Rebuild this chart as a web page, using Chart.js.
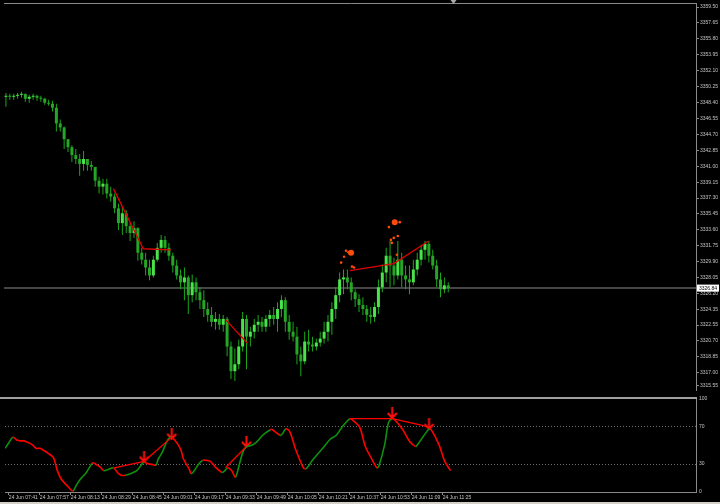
<!DOCTYPE html>
<html>
<head>
<meta charset="utf-8">
<title>24 Jun M1</title>
<script src="https://cdn.jsdelivr.net/npm/chart.js@4.4.1/dist/chart.umd.min.js"></script>
<style>
html, body { margin: 0; padding: 0; background: #000; }
#wrap { position: relative; width: 720px; height: 504px; overflow: hidden; background: #000; }
#price-chart { position: absolute; left: 0; top: 0; }
#osc-chart { position: absolute; left: 0; top: 394px; }
#foot { position: absolute; left: 0; top: 502px; width: 720px; height: 2px; background: #d4d0c8; }
</style>
</head>
<body>
<div id="wrap">
  <canvas id="price-chart" width="720" height="394"></canvas>
  <canvas id="osc-chart" width="720" height="108"></canvas>
  <div id="foot"></div>
</div>
<script>
// ---- price bars (2 minute bars, first one opens 07:39) ----
const opens = [3349.07,3349.18,3349.07,3349.18,3349.30,3349.41,3348.84,3349.07,3349.18,3348.95,
  3348.84,3348.38,3348.26,3347.80,3345.97,3345.51,3344.14,3343.22,3342.30,3341.84,
  3341.27,3341.84,3341.15,3340.92,3339.32,3338.63,3338.97,3337.83,3337.48,3336.11,
  3334.39,3335.53,3334.04,3333.24,3333.81,3330.95,3330.14,3329.23,3328.31,3330.14,
  3331.52,3332.44,3331.52,3330.60,3329.46,3328.31,3327.51,3328.08,3326.02,3327.51,
  3326.36,3325.44,3324.41,3323.72,3322.92,3323.26,3322.58,3323.26,3320.05,3317.19,
  3317.99,3320.05,3323.26,3321.20,3321.77,3322.58,3322.92,3322.35,3323.26,3323.72,
  3323.26,3324.41,3325.44,3322.92,3321.77,3321.20,3319.13,3318.33,3320.63,3320.28,
  3320.05,3320.51,3320.97,3321.77,3322.92,3324.41,3326.02,3327.85,3328.08,3327.51,
  3326.36,3325.56,3324.87,3324.41,3323.72,3323.49,3324.64,3326.93,3328.65,3330.60,
  3329.46,3328.31,3330.14,3328.31,3327.85,3327.51,3329.00,3330.14,3331.29,3331.98,
  3330.60,3329.46,3327.85,3326.70,3327.16];
const highs = [3349.52,3349.41,3349.41,3349.52,3349.64,3349.41,3349.30,3349.41,3349.30,3349.18,
  3348.95,3348.72,3348.61,3348.26,3346.43,3345.63,3344.14,3343.45,3342.99,3342.41,
  3342.76,3341.84,3341.61,3340.92,3339.78,3339.55,3339.55,3338.63,3337.83,3336.68,
  3336.34,3335.88,3334.39,3334.62,3333.90,3331.52,3330.95,3330.14,3330.60,3332.09,
  3333.01,3332.90,3332.09,3330.95,3330.14,3329.00,3329.23,3328.31,3328.42,3328.08,
  3326.93,3326.59,3325.21,3324.64,3324.07,3323.84,3323.72,3323.49,3320.63,3319.82,
  3320.85,3324.07,3323.72,3322.35,3323.26,3323.72,3323.49,3323.72,3324.30,3324.64,
  3325.21,3326.02,3325.79,3323.72,3322.92,3322.35,3320.05,3321.77,3322.00,3321.20,
  3320.97,3321.77,3322.92,3323.72,3325.21,3326.93,3328.65,3329.00,3329.00,3328.08,
  3326.70,3326.13,3325.79,3324.87,3324.64,3325.21,3327.85,3329.57,3331.52,3332.32,
  3330.37,3332.32,3330.95,3329.46,3329.46,3330.14,3330.95,3331.86,3332.32,3332.32,
  3331.29,3330.14,3328.65,3328.08,3327.51];
const lows = [3347.92,3348.72,3348.72,3348.84,3348.95,3348.49,3348.38,3348.72,3348.61,3348.49,
  3348.15,3348.03,3347.35,3345.05,3345.05,3342.99,3342.64,3341.50,3341.27,3339.89,
  3340.47,3340.47,3340.47,3338.63,3337.83,3337.71,3337.25,3336.91,3335.53,3333.58,
  3333.01,3333.24,3332.32,3332.67,3330.03,3329.57,3328.31,3327.74,3328.08,3329.91,
  3330.95,3330.95,3330.03,3328.65,3327.85,3326.70,3325.44,3323.84,3325.21,3325.44,
  3324.41,3323.49,3322.92,3322.35,3322.00,3322.00,3321.77,3318.91,3316.27,3316.04,
  3317.41,3319.48,3317.41,3320.05,3320.97,3321.77,3321.77,3321.77,3322.35,3322.58,
  3321.77,3323.49,3321.77,3320.85,3320.63,3317.99,3316.61,3317.99,3319.48,3319.48,
  3319.59,3320.05,3320.40,3320.63,3321.43,3323.26,3325.21,3326.13,3326.70,3325.44,
  3324.64,3324.07,3323.72,3322.92,3322.69,3322.92,3323.84,3326.36,3327.51,3326.93,
  3327.16,3327.85,3326.93,3326.70,3326.13,3327.16,3328.31,3329.46,3330.14,3329.80,
  3329.00,3326.93,3325.79,3326.25,3326.36];
const closes = [3349.18,3349.07,3349.18,3349.30,3349.41,3348.84,3349.07,3349.18,3348.95,3348.84,
  3348.38,3348.26,3347.80,3345.97,3345.51,3344.14,3343.22,3342.30,3341.84,3341.27,
  3341.84,3341.15,3340.92,3339.32,3338.63,3338.97,3337.83,3337.48,3336.11,3334.39,
  3335.53,3334.04,3333.24,3333.81,3330.95,3330.14,3329.23,3328.31,3330.14,3331.52,
  3332.44,3331.52,3330.60,3329.46,3328.31,3327.51,3328.08,3326.02,3327.51,3326.36,
  3325.44,3324.41,3323.72,3322.92,3323.26,3322.58,3323.26,3320.05,3317.19,3317.99,
  3320.05,3323.26,3321.20,3321.77,3322.58,3322.92,3322.35,3323.26,3323.72,3323.26,
  3324.41,3325.44,3322.92,3321.77,3321.20,3319.13,3318.33,3320.63,3320.28,3320.05,
  3320.51,3320.97,3321.77,3322.92,3324.41,3326.02,3327.85,3328.08,3327.51,3326.36,
  3325.56,3324.87,3324.41,3323.72,3323.49,3324.64,3326.93,3328.65,3330.60,3329.46,
  3328.31,3330.14,3328.31,3327.85,3327.51,3329.00,3330.14,3331.29,3331.98,3330.60,
  3329.46,3327.85,3326.70,3327.16,3326.84];

// red trend lines on the price window (minutes from 07:39, price)
const zigA_t = [56.4, 71.8, 86.1];
const zigA_p = [3338.40, 3331.41, 3331.29];
const zigB_t = [114.3, 125.6];
const zigB_p = [3323.15, 3320.40];
const zigC_t = [178.4, 200.9, 218.9];
const zigC_p = [3328.88, 3329.69, 3332.32];

// orange dots above the last swing highs
const dotTimes = [173.8, 175.3, 176.3, 177.5, 178.9, 179.4, 180.4, 198.4, 199.4, 199.9, 200.9, 201.4, 202.5, 203.0, 204.0];
const dotPrices = [3329.80, 3330.49, 3331.18, 3331.00, 3330.95, 3329.34, 3329.23, 3333.93, 3332.44, 3332.09, 3332.67, 3334.50, 3330.72, 3332.90, 3334.50];
const dotBig = [false, false, false, false, true, false, false, false, false, false, false, true, false, false, false];

// oscillator (0..100)
const oscTimes = [0,2,4,6,8,10,11,14,16,18,19,22,25,27,29,32,35,37,39,42,
  45,46,49,51,53,56,58,60,62,65,68,70,72,73,75,78,79,81,84,86,
  89,91,92,95,96,97,100,102,104,106,109,112,113,115,117,119,121,123,125,127,
  130,133,137,138,142,143,145,147,150,154,155,156,159,164,168,171,174,178,179,183,
  186,190,192,193,196,198,200,201,205,209,212,213,216,219,220,224,227,230];
const oscValues = [47,53,59,56,55,55,54,51,47,47,46,42,37,23,14,7,1,8,14,21,
  31,31,27,23,24,26,21,18,18,20,23,28,33,31,30,29,35,42,56,59,
  52,44,36,25,20,21,30,34,34,33,26,21,22,26,23,16,30,44,49,50,
  54,61,67,67,61,62,68,65,46,26,25,26,35,47,57,61,70,79,78,70,
  49,33,26,28,51,75,79,78,68,54,49,51,60,68,67,51,33,23];

// divergence lines and signal arrows in the oscillator window
const divA_t = [56.4, 71.8, 86.1];
const divA_v = [26, 33, 59];
const divB_t = [113.8, 124.6];
const divB_v = [26, 49];
const divC_t = [177.9, 199.9, 218.9];
const divC_v = [79, 79, 70];
const arrowTimes = [71.8, 86.1, 124.6, 199.9, 218.9];
const arrowValues = [38, 62.5, 54, 85, 73];

// axis labels
const priceTickValues = [3359.50,3357.65,3355.80,3353.95,3352.10,3350.25,3348.40,3346.55,3344.70,3342.85,
  3341.00,3339.15,3337.30,3335.45,3333.60,3331.75,3329.90,3328.05,3326.20,3324.35,
  3322.55,3320.70,3318.85,3317.00,3315.55];
const priceTickLabels = priceTickValues.map(v => v.toFixed(2));
const oscTickValues = [100, 70, 30, 0];
const oscTickLabels = ['100', '70', '30', '0'];
const timeTickMinutes = [2,18,34,50,66,82,98,114,130,146,162,178,194,210,226];
const timeTickLabels = ['24 Jun 07:41','24 Jun 07:57','24 Jun 08:13','24 Jun 08:29','24 Jun 08:45',
  '24 Jun 09:01','24 Jun 09:17','24 Jun 09:33','24 Jun 09:49','24 Jun 10:05','24 Jun 10:21',
  '24 Jun 10:37','24 Jun 10:53','24 Jun 11:09','24 Jun 11:25'];

const lastPrice = closes[closes.length - 1];

document.addEventListener("DOMContentLoaded", function () {
if (typeof Chart === 'undefined') {
  console.error('Chart.js is not loaded.');
  return;
}

Chart.defaults.font.family = '"Liberation Sans", Arial, sans-serif';
Chart.defaults.color = '#c4c4c4';

const xMin = 0, xMax = 356.7;   // minutes shown across the window (chart shift on the right)
const shiftMarkerAt = 231.7;
const frameColor = '#8a8a8a';
const axisFont = { size: 5 };

// every bar sits in the middle of its two minutes
const barX = opens.map((o, i) => i * 2 + 1);
const wickData = barX.map((x, i) => ({ x: x, y: [lows[i], highs[i]] }));
const bodyData = barX.map((x, i) => ({ x: x, y: [opens[i], closes[i]] }));
const pts = (xs, ys) => xs.map((x, i) => ({ x: x, y: ys[i] }));

function fixWidth(w) {
  return function (scale) {
    scale.width = w;
    scale.paddingTop = 0;
    scale.paddingBottom = 0;
  };
}

const priceDecor = {
  id: 'priceDecor',
  beforeDatasetsDraw(chart) {
    const { ctx, chartArea: a, scales: { y } } = chart;
    const py = y.getPixelForValue(lastPrice);
    ctx.save();
    ctx.strokeStyle = '#454545';
    ctx.lineWidth = 2;
    ctx.beginPath();
    ctx.moveTo(a.left, py);
    ctx.lineTo(a.right, py);
    ctx.stroke();
    ctx.restore();
  },
  afterDraw(chart) {
    const { ctx, chartArea: a, scales: { x, y } } = chart;
    ctx.save();
    ctx.strokeStyle = frameColor;
    ctx.lineWidth = 1;
    ctx.beginPath();
    ctx.moveTo(a.left, a.top - 0.5);
    ctx.lineTo(a.right + 1, a.top - 0.5);
    ctx.stroke();
    // chart shift marker
    const sx = x.getPixelForValue(shiftMarkerAt);
    ctx.fillStyle = '#a8a8a8';
    ctx.beginPath();
    ctx.moveTo(sx - 3, 0);
    ctx.lineTo(sx + 3, 0);
    ctx.lineTo(sx, 4);
    ctx.closePath();
    ctx.fill();
    // current price label
    const py = y.getPixelForValue(lastPrice);
    ctx.fillStyle = '#ffffff';
    ctx.fillRect(a.right + 1, py - 3.5, 22, 7);
    ctx.fillStyle = '#000000';
    ctx.font = '5px "Liberation Sans"';
    ctx.textBaseline = 'middle';
    ctx.fillText(lastPrice.toFixed(2), a.right + 3, py + 0.5);
    ctx.restore();
  }
};

new Chart(document.getElementById('price-chart'), {
  type: 'bar',
  data: {
    datasets: [
      {
        type: 'line',
        data: pts(zigA_t, zigA_p),
        borderColor: '#e00000',
        borderWidth: 1.3,
        pointRadius: 0,
        order: 0
      },
      {
        type: 'line',
        data: pts(zigB_t, zigB_p),
        borderColor: '#e00000',
        borderWidth: 1.3,
        pointRadius: 0,
        order: 0
      },
      {
        type: 'line',
        data: pts(zigC_t, zigC_p),
        borderColor: '#e00000',
        borderWidth: 1.3,
        pointRadius: 0,
        order: 0
      },
      {
        type: 'scatter',
        data: pts(dotTimes, dotPrices),
        backgroundColor: '#ff4a0a',
        borderWidth: 0,
        pointRadius: ctx => dotBig[ctx.dataIndex] ? 3 : 1.3,
        order: 0
      },
      {
        label: 'wick',
        data: wickData,
        backgroundColor: '#1aa81a',
        barThickness: 1,
        grouped: false,
        inflateAmount: 0,
        order: 2
      },
      {
        label: 'body',
        data: bodyData,
        backgroundColor: ctx => closes[ctx.dataIndex] >= opens[ctx.dataIndex] ? '#4ae44a' : '#26a626',
        barThickness: 3,
        minBarLength: 1,
        grouped: false,
        inflateAmount: 0,
        order: 1
      }
    ]
  },
  options: {
    responsive: false,
    animation: false,
    events: [],
    layout: { padding: { top: 3, bottom: 0, left: 0, right: 0 } },
    plugins: { legend: { display: false }, tooltip: { enabled: false } },
    scales: {
      x: {
        type: 'linear', min: xMin, max: xMax, offset: false, display: false,
        grid: { offset: false }
      },
      y: {
        position: 'right', min: 3315.0, max: 3359.85,
        grid: { display: true, drawOnChartArea: false, tickLength: 3, tickColor: frameColor },
        border: { display: true, color: frameColor },
        ticks: {
          autoSkip: false, padding: 1, font: axisFont, color: '#c4c4c4',
          callback: (v, i) => priceTickLabels[i]
        },
        afterBuildTicks: scale => { scale.ticks = priceTickValues.map(v => ({ value: v })); },
        afterFit: fixWidth(24)
      }
    }
  },
  plugins: [priceDecor]
});

// down arrow marker for the oscillator signals
const arrowImg = document.createElement('canvas');
arrowImg.width = 11;
arrowImg.height = 12;
(function () {
  const g = arrowImg.getContext('2d');
  g.strokeStyle = '#ff1010';
  g.lineWidth = 2;
  g.beginPath();
  g.moveTo(5.5, 0);
  g.lineTo(5.5, 11);
  g.moveTo(1, 6);
  g.lineTo(5.5, 11);
  g.lineTo(10, 6);
  g.stroke();
})();

const oscDecor = {
  id: 'oscDecor',
  afterDraw(chart) {
    const { ctx, chartArea: a } = chart;
    ctx.save();
    ctx.fillStyle = '#a0a0a0';
    ctx.fillRect(0, a.top - 2, a.right + 1, 2);
    ctx.restore();
  }
};

new Chart(document.getElementById('osc-chart'), {
  type: 'line',
  data: {
    datasets: [
      {
        data: pts(divA_t, divA_v),
        borderColor: '#ff0000', borderWidth: 1.3, pointRadius: 0
      },
      {
        data: pts(divB_t, divB_v),
        borderColor: '#ff0000', borderWidth: 1.3, pointRadius: 0
      },
      {
        data: pts(divC_t, divC_v),
        borderColor: '#ff0000', borderWidth: 1.3, pointRadius: 0
      },
      {
        data: pts(oscTimes, oscValues),
        borderWidth: 1.6,
        pointRadius: 0,
        tension: 0.3,
        segment: {
          borderColor: ctx => ctx.p1.parsed.y > ctx.p0.parsed.y ? '#0e900e' : '#ff0000'
        }
      },
      {
        type: 'scatter',
        data: pts(arrowTimes, arrowValues),
        pointStyle: arrowImg
      }
    ]
  },
  options: {
    responsive: false,
    animation: false,
    events: [],
    layout: { padding: { top: 2, bottom: 0, left: 0, right: 0 } },
    plugins: { legend: { display: false }, tooltip: { enabled: false } },
    scales: {
      x: {
        type: 'linear', min: xMin, max: xMax, offset: false,
        grid: { display: true, drawOnChartArea: false, tickLength: 3, tickColor: frameColor },
        border: { display: true, color: frameColor },
        ticks: {
          autoSkip: false, maxRotation: 0, align: 'start', padding: 0,
          font: axisFont, color: '#c4c4c4',
          callback: (v, i) => timeTickLabels[i]
        },
        afterBuildTicks: scale => { scale.ticks = timeTickMinutes.map(v => ({ value: v })); },
        afterFit: scale => {
          scale.height = 10;
          scale.paddingLeft = 0;
          scale.paddingRight = 0;
        }
      },
      y: {
        position: 'right', min: 0, max: 100,
        grid: {
          display: true, drawTicks: false,
          color: ctx => (ctx.tick && (ctx.tick.value === 70 || ctx.tick.value === 30)) ? '#6e6e6e' : 'rgba(0,0,0,0)'
        },
        border: { display: true, color: frameColor, dash: [1, 2] },
        ticks: {
          autoSkip: false, padding: 3, font: axisFont, color: '#c4c4c4',
          callback: (v, i) => oscTickLabels[i]
        },
        afterBuildTicks: scale => { scale.ticks = oscTickValues.map(v => ({ value: v })); },
        afterFit: fixWidth(24)
      }
    }
  },
  plugins: [oscDecor]
});
});
</script>
</body>
</html>
